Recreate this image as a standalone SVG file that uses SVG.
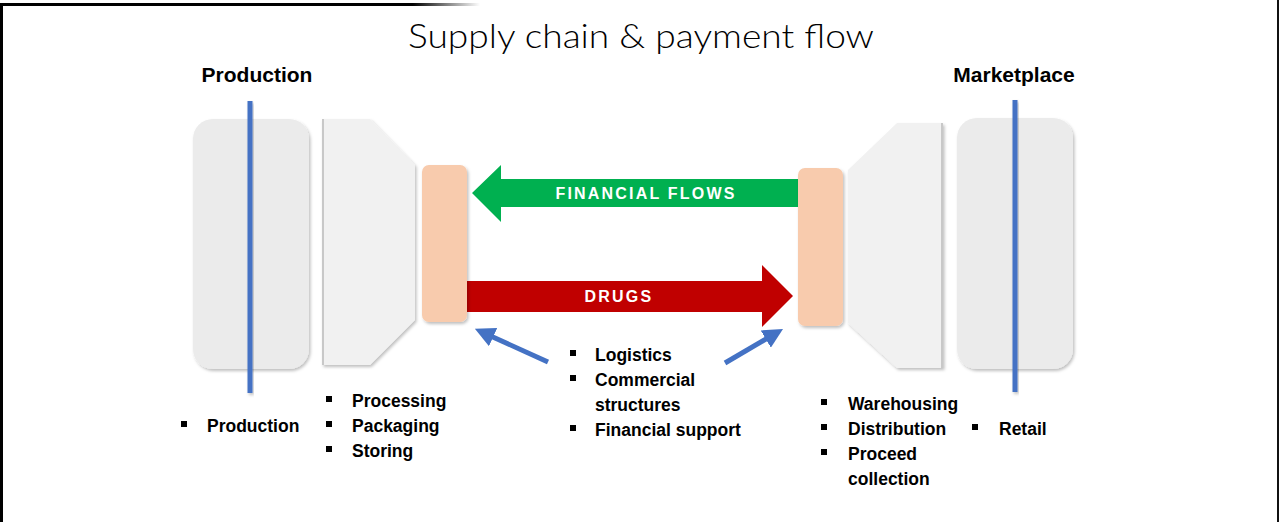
<svg xmlns="http://www.w3.org/2000/svg" width="1279" height="522" viewBox="0 0 1279 522">
<defs>
<style>
.box{fill:#ebebeb;filter:url(#sh);}
.trap{fill:#f1f1f1;filter:url(#sh);}
.peach{fill:#f8cbad;filter:url(#sh);}
.axis{fill:#4472c4;filter:url(#sh);}
.hdr{font-family:"Liberation Sans",Arial,sans-serif;font-weight:bold;font-size:21px;fill:#000;text-anchor:middle;}
.li{font-family:"Liberation Sans",Arial,sans-serif;font-weight:bold;font-size:17.5px;fill:#000;}
.bul{fill:#000;}
.lbl{font-family:"Liberation Sans",Arial,sans-serif;font-weight:bold;font-size:16px;fill:#fff;text-anchor:middle;letter-spacing:2.2px;}
.blue{stroke:#4472c4;stroke-width:5;fill:none;marker-end:url(#bh);}
</style>
<filter id="sh" x="-20%" y="-20%" width="140%" height="140%">
<feDropShadow dx="1.5" dy="2" stdDeviation="1.8" flood-color="#000" flood-opacity="0.25"/>
</filter>
<linearGradient id="topg" gradientUnits="userSpaceOnUse" x1="0" y1="0" x2="480" y2="0">
<stop offset="0.86" stop-color="#000"/>
<stop offset="1" stop-color="#fff"/>
</linearGradient>
<marker id="bh" viewBox="0 0 4 4" refX="2" refY="2" markerWidth="4" markerHeight="4" markerUnits="strokeWidth" orient="auto">
<path d="M0,0 L4,2 L0,4 z" fill="#4472c4"/>
</marker>
</defs>
<rect width="1279" height="522" fill="#fff"/>
<g id="frame">
<rect x="0" y="3" width="480" height="3" fill="url(#topg)"/>
<rect x="0" y="3" width="3" height="519" fill="#000"/>
<rect x="1277" y="0" width="2" height="522" fill="#111"/>
</g>
<text id="title" x="641" y="48" font-family="Lato,'Liberation Sans',sans-serif" font-weight="300" font-size="34" fill="#000" text-anchor="middle" textLength="466" lengthAdjust="spacingAndGlyphs">Supply chain &amp; payment flow</text>
<g id="production">
<rect class="box" x="193" y="119" width="116" height="250" rx="20"/>
<rect class="axis" x="247.5" y="101" width="5" height="292"/>
<text class="hdr" x="257" y="82">Production</text>
<rect class="bul" x="181" y="421" width="6" height="6"/>
<text class="li" x="207" y="432">Production</text>
</g>
<g id="processing">
<polygon class="trap" points="322,119 370,119 415,165 415,320 370,365 322,365"/>
<rect x="322" y="119" width="2" height="246" fill="#c8c8c8"/>
<rect class="bul" x="326" y="396" width="6" height="6"/>
<text class="li" x="352" y="407">Processing</text>
<rect class="bul" x="326" y="421" width="6" height="6"/>
<text class="li" x="352" y="432">Packaging</text>
<rect class="bul" x="326" y="446" width="6" height="6"/>
<text class="li" x="352" y="457">Storing</text>
</g>
<g id="connectors">
<polygon id="financial-flows" points="472,193 501,165 501,179 805,179 805,207 501,207 501,222" fill="#00b050"/>
<text class="lbl" x="646" y="199">FINANCIAL FLOWS</text>
<polygon id="drugs" points="455,281 762,281 762,265 793,296 762,327 762,312 455,312" fill="#c00000"/>
<text class="lbl" x="619" y="302">DRUGS</text>
<path class="blue" d="M548,362 L484,333"/>
<path class="blue" d="M725,363 L774.4,334"/>
</g>
<g id="hub-left">
<rect class="peach" x="422" y="165" width="45" height="157" rx="7"/>
</g>
<g id="hub-right">
<rect class="peach" x="798" y="168" width="45" height="158" rx="7"/>
</g>
<g id="support">
<rect class="bul" x="570" y="350" width="6" height="6"/>
<text class="li" x="595" y="361">Logistics</text>
<rect class="bul" x="570" y="375" width="6" height="6"/>
<text class="li" x="595" y="386">Commercial</text>
<text class="li" x="595" y="411">structures</text>
<rect class="bul" x="570" y="425" width="6" height="6"/>
<text class="li" x="595" y="436">Financial support</text>
</g>
<g id="distribution">
<polygon class="trap" points="897,123 943,123 943,368 897,368 848,323 848,170"/>
<rect x="941" y="123" width="2" height="245" fill="#c8c8c8"/>
<rect class="bul" x="821" y="399" width="6" height="6"/>
<text class="li" x="848" y="410">Warehousing</text>
<rect class="bul" x="821" y="424" width="6" height="6"/>
<text class="li" x="848" y="435">Distribution</text>
<rect class="bul" x="821" y="449" width="6" height="6"/>
<text class="li" x="848" y="460">Proceed</text>
<text class="li" x="848" y="485">collection</text>
</g>
<g id="marketplace">
<rect class="box" x="957" y="118" width="116" height="251" rx="20"/>
<rect class="axis" x="1012.5" y="100" width="5" height="292"/>
<text class="hdr" x="1014" y="82">Marketplace</text>
<rect class="bul" x="972" y="424" width="6" height="6"/>
<text class="li" x="999" y="435">Retail</text>
</g>
</svg>
